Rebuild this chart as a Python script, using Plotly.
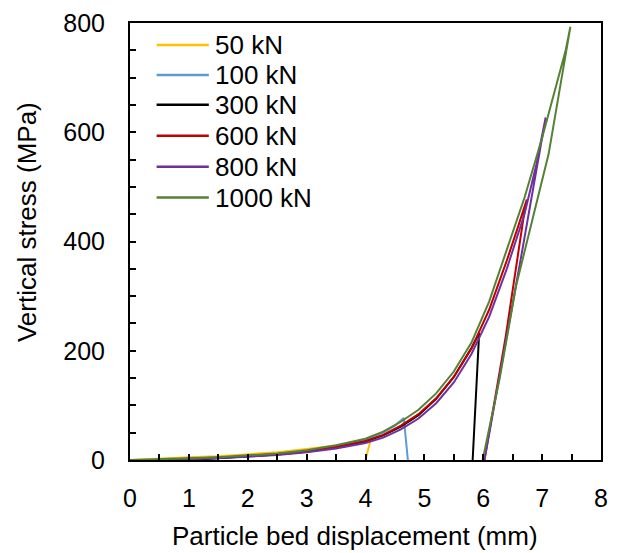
import plotly.graph_objects as go

# ---- data ----
names = ["50 kN", "100 kN", "300 kN", "600 kN", "800 kN", "1000 kN"]
colors = ["#FFC000", "#5B9BD5", "#000000", "#C00000", "#7030A0", "#548235"]

x_50 = [0, 0.5, 1.0, 1.5, 2.0, 2.5, 3.0, 3.5, 3.8, 4.08, 4.0]
y_50 = [0, 3, 5, 7, 10, 14, 20, 27, 31, 34, 0]

x_100 = [1.0, 1.5, 2.0, 2.5, 3.0, 3.5, 4.0, 4.3, 4.5, 4.65, 4.72]
y_100 = [0, 3, 6, 10, 16, 24, 38, 50, 63, 77, 0]

x_300 = [1.0, 1.5, 2.0, 2.5, 3.0, 3.5, 4.0, 4.3, 4.6, 4.9, 5.2, 5.5, 5.8, 5.93, 5.82]
y_300 = [0, 3, 6, 10, 15, 23, 34, 45, 61, 82, 112, 152, 205, 232, 0]

x_600 = [0.45, 1.0, 1.5, 2.0, 2.5, 3.0, 3.5, 4.0, 4.3, 4.6, 4.9, 5.2, 5.5, 5.8, 6.1, 6.4, 6.6, 6.74, 6.70, 6.38, 6.02]
y_600 = [0, 2, 4, 7, 11, 16, 24, 35, 46, 63, 84, 113, 152, 204, 275, 365, 430, 477, 455, 225, 0]

x_800 = [0.75, 1.0, 1.5, 2.0, 2.5, 3.0, 3.5, 4.0, 4.3, 4.6, 4.9, 5.2, 5.5, 5.8, 6.1, 6.4, 6.7, 6.9, 7.06, 6.64, 6.02]
y_800 = [0, 1, 3, 6, 9, 14, 21, 31, 41, 56, 76, 104, 142, 194, 262, 350, 450, 540, 627, 370, 0]

x_1000 = [0, 0.5, 1.0, 1.5, 2.0, 2.5, 3.0, 3.5, 4.0, 4.3, 4.6, 4.9, 5.2, 5.5, 5.8, 6.1, 6.4, 6.7, 7.0, 7.2, 7.4, 7.48, 7.11, 6.56, 6.28, 5.99]
y_1000 = [0, 1, 3, 5, 8, 12, 18, 27, 39, 52, 70, 92, 122, 162, 215, 290, 385, 480, 590, 670, 750, 793, 560, 320, 150, 0]

xs = [x_50, x_100, x_300, x_600, x_800, x_1000]
ys = [y_50, y_100, y_300, y_600, y_800, y_1000]

x_ticks = [0, 1, 2, 3, 4, 5, 6, 7, 8]
y_ticks = [0, 200, 400, 600, 800]

FONT = "Arial, Liberation Sans, sans-serif"
W, H = 617, 553
ML, MR, MT, MB = 130, 9, 22, 93
PW, PH = W - ML - MR, H - MT - MB


def px_to_paper_x(px):
    return (px - ML) / PW


def px_to_paper_y(py):
    return (H - MB - py) / PH


fig = go.Figure()
for n, c, x, y in zip(names, colors, xs, ys):
    fig.add_trace(go.Scatter(x=x, y=y, mode="lines", name=n,
                             line=dict(color=c, width=2), showlegend=False))

axis_common = dict(
    showline=True, linecolor="black", linewidth=2, mirror=True,
    showgrid=False, zeroline=False, ticks="inside", tickcolor="black",
    ticklen=6, tickwidth=2,
    tickfont=dict(family=FONT, size=25, color="black"),
)

fig.update_xaxes(range=[0, 8], tickvals=x_ticks, ticklabelstandoff=15,
                 minor=dict(dtick=0.5, ticks="inside", ticklen=6, tickwidth=2, tickcolor="black"),
                 **axis_common)
fig.update_yaxes(range=[0, 800], tickvals=y_ticks, ticklabelstandoff=18,
                 minor=dict(dtick=50, ticks="inside", ticklen=6, tickwidth=2, tickcolor="black"),
                 **axis_common)

# legend drawn as line samples + text, placed like the reference legend
legend_rows_px = [44, 74, 104, 135, 166, 197]
shapes = []
annotations = []
for n, c, ry in zip(names, colors, legend_rows_px):
    yy = px_to_paper_y(ry)
    shapes.append(dict(type="line", xref="paper", yref="paper",
                       x0=px_to_paper_x(157), x1=px_to_paper_x(210), y0=yy, y1=yy,
                       line=dict(color=c, width=2.5)))
    annotations.append(dict(text=n, xref="paper", yref="paper",
                            x=px_to_paper_x(214), y=yy, xanchor="left", yanchor="middle",
                            showarrow=False,
                            font=dict(family=FONT, size=26, color="black")))

annotations += [
    dict(text="Vertical stress (MPa)", xref="paper", yref="paper",
         x=px_to_paper_x(25), y=px_to_paper_y(222), textangle=-90, showarrow=False,
         font=dict(family=FONT, size=26, color="black"),
         xanchor="center", yanchor="middle"),
    dict(text="Particle bed displacement (mm)", xref="paper", yref="paper",
         x=px_to_paper_x(358), y=px_to_paper_y(536), showarrow=False,
         font=dict(family=FONT, size=26, color="black"),
         xanchor="center", yanchor="middle"),
]

fig.update_layout(
    width=W, height=H,
    margin=dict(l=ML, r=MR, t=MT, b=MB),
    paper_bgcolor="white", plot_bgcolor="white",
    font=dict(family=FONT, size=26, color="black"),
    showlegend=False,
    shapes=shapes,
    annotations=annotations,
)

fig.write_html("out.html")
